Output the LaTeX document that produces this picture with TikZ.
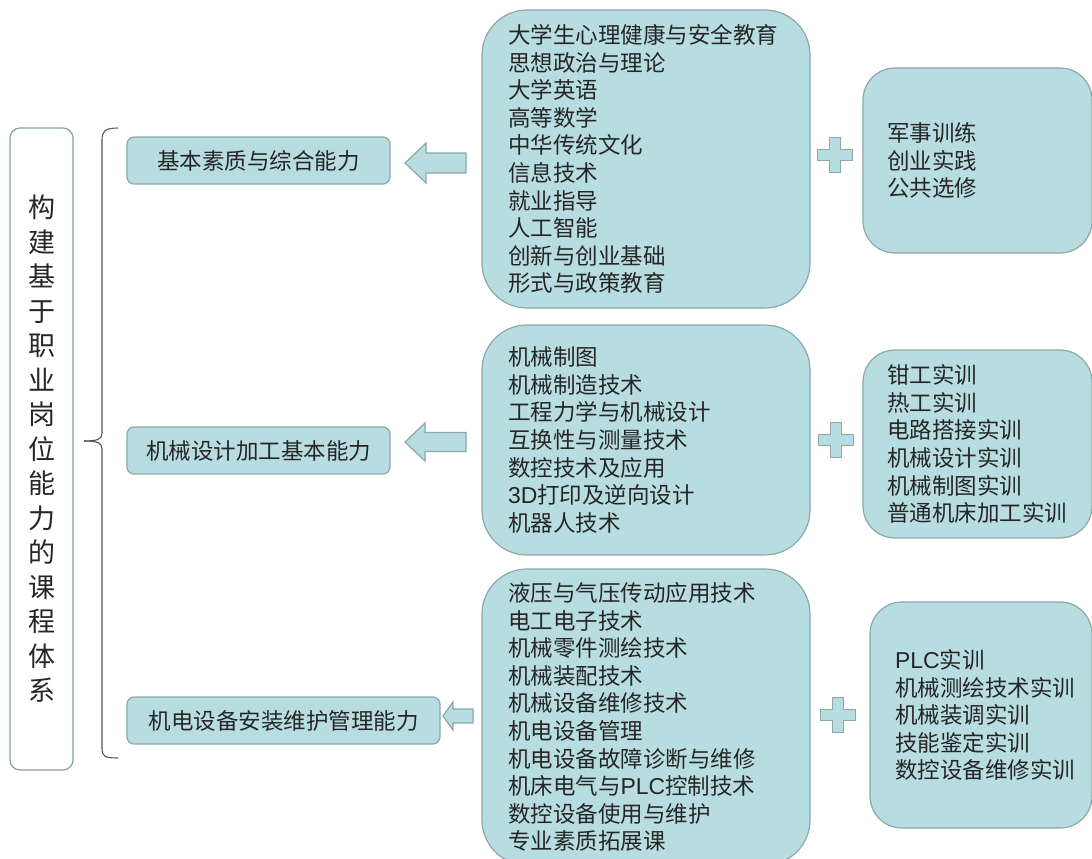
\documentclass[tikz,border=0pt]{standalone}
\usepackage{fontspec}
\setmainfont{Noto Sans CJK SC}
\newfontfamily\latinsans{Liberation Sans}
\definecolor{boxfill}{HTML}{B8DDE1}
\definecolor{boxline}{HTML}{8DA8AB}
\definecolor{txt}{HTML}{262626}
\definecolor{brk}{HTML}{555555}
\tikzset{
  body/.style={font=\fontsize{22.5}{27.6}\selectfont, text=txt},
  catbox/.style={draw=boxline, line width=1.2pt, fill=boxfill, rounded corners=7pt,
    minimum height=47pt, inner sep=0pt, body},
  listbox/.style={draw=boxline, line width=1.2pt, fill=boxfill, rounded corners=45pt,
    align=left, inner ysep=0pt, body},
  sidebox/.style={draw=boxline, line width=1.2pt, fill=boxfill, rounded corners=32pt,
    align=left, inner ysep=0pt, body},
  blockarrow/.style={draw=boxline, line width=1.2pt, fill=boxfill, line join=miter},
  plussign/.style={draw=boxline, line width=1.2pt, fill=boxfill},
}
\newcommand{\lat}[1]{{\latinsans\fontsize{23}{27.6}\selectfont #1}}
% #1 tip coordinate, #2 total length, #3 head length, #4 head half-height, #5 shaft half-height
\newcommand{\leftblockarrow}[5]{%
  \draw[blockarrow] (#1) -- +(#3,-#4) -- +(#3,-#5) -- +(#2,-#5) -- +(#2,#5)
    -- +(#3,#5) -- +(#3,#4) -- cycle;}
\newcommand{\plusat}[1]{%
  \draw[plussign] (#1) +(-5.5,-17.5) -- +(5.5,-17.5) -- +(5.5,-5.5) -- +(17.5,-5.5)
    -- +(17.5,5.5) -- +(5.5,5.5) -- +(5.5,17.5) -- +(-5.5,17.5) -- +(-5.5,5.5)
    -- +(-17.5,5.5) -- +(-17.5,-5.5) -- +(-5.5,-5.5) -- cycle;}
\begin{document}
\begin{tikzpicture}[x=1pt,y=-1pt]
\useasboundingbox (0,0) rectangle (1092,859);

% title box
\node[draw=boxline!80!gray, line width=1.2pt, fill=white, rounded corners=10pt,
  minimum width=63pt, minimum height=642pt, inner sep=0pt, align=center,
  font=\fontsize{27}{34.5}\selectfont, text=txt] (title) at (41.5,449)
  {构\\建\\基\\于\\职\\业\\岗\\位\\能\\力\\的\\课\\程\\体\\系};

% bracket
\coordinate (bt) at (118,128);
\coordinate (bm) at (84,441);
\coordinate (bb) at (118,758);
\draw[brk, line width=1.1pt] (bt) .. controls (104,128) and (102,132) .. (102,140)
  -- (102,433) .. controls (102,439) and (98,441) .. (bm);
\draw[brk, line width=1.1pt] (bm) .. controls (98,441) and (102,443) .. (102,449)
  -- (102,748) .. controls (102,756) and (104,758) .. (bb);

% category boxes
\node[catbox, minimum width=263pt] (c1) at (258.5,160.5) {基本素质与综合能力};
\node[catbox, minimum width=263pt] (c2) at (258.5,450.5) {机械设计加工基本能力};
\node[catbox, minimum width=313pt] (c3) at (283.5,720.5) {机电设备安装维护管理能力};

% list boxes
\node[listbox, text width=276pt, inner xsep=26pt, minimum height=298pt] (l1) at (646,159)
  {大学生心理健康与安全教育\\思想政治与理论\\大学英语\\高等数学\\中华传统文化\\信息技术\\就业指导\\人工智能\\创新与创业基础\\形式与政策教育};
\node[listbox, text width=276pt, inner xsep=26pt, minimum height=230pt] (l2) at (646,440)
  {机械制图\\机械制造技术\\工程力学与机械设计\\互换性与测量技术\\数控技术及应用\\\lat{3D}打印及逆向设计\\机器人技术};
\node[listbox, text width=276pt, inner xsep=26pt, minimum height=296pt] (l3) at (646,717)
  {液压与气压传动应用技术\\电工电子技术\\机械零件测绘技术\\机械装配技术\\机械设备维修技术\\机电设备管理\\机电设备故障诊断与维修\\机床电气与\lat{PLC}控制技术\\数控设备使用与维护\\专业素质拓展课};

% side boxes
\node[sidebox, text width=181pt, inner xsep=24pt, minimum height=185pt] (s1) at (977.5,160.5)
  {军事训练\\创业实践\\公共选修};
\node[sidebox, text width=181pt, inner xsep=24pt, minimum height=188pt] (s2) at (977.5,444)
  {钳工实训\\热工实训\\电路搭接实训\\机械设计实训\\机械制图实训\\普通机床加工实训};
\node[sidebox, text width=172pt, inner xsep=25pt, minimum height=226pt] (s3) at (981,715)
  {\lat{PLC}实训\\机械测绘技术实训\\机械装调实训\\技能鉴定实训\\数控设备维修实训};

% block arrows from list boxes to category boxes (tips)
\coordinate (a1) at (405,163);
\coordinate (a2) at (405,442);
\coordinate (a3) at (443,716);
\leftblockarrow{a1}{61}{21}{20}{10}
\leftblockarrow{a2}{61}{20}{19}{9.5}
\leftblockarrow{a3}{30}{10}{14}{7}

% plus signs between list boxes and side boxes
\coordinate (p1) at (835,155);
\coordinate (p2) at (836,440);
\coordinate (p3) at (838,715);
\plusat{p1}
\plusat{p2}
\plusat{p3}
\end{tikzpicture}
\end{document}
